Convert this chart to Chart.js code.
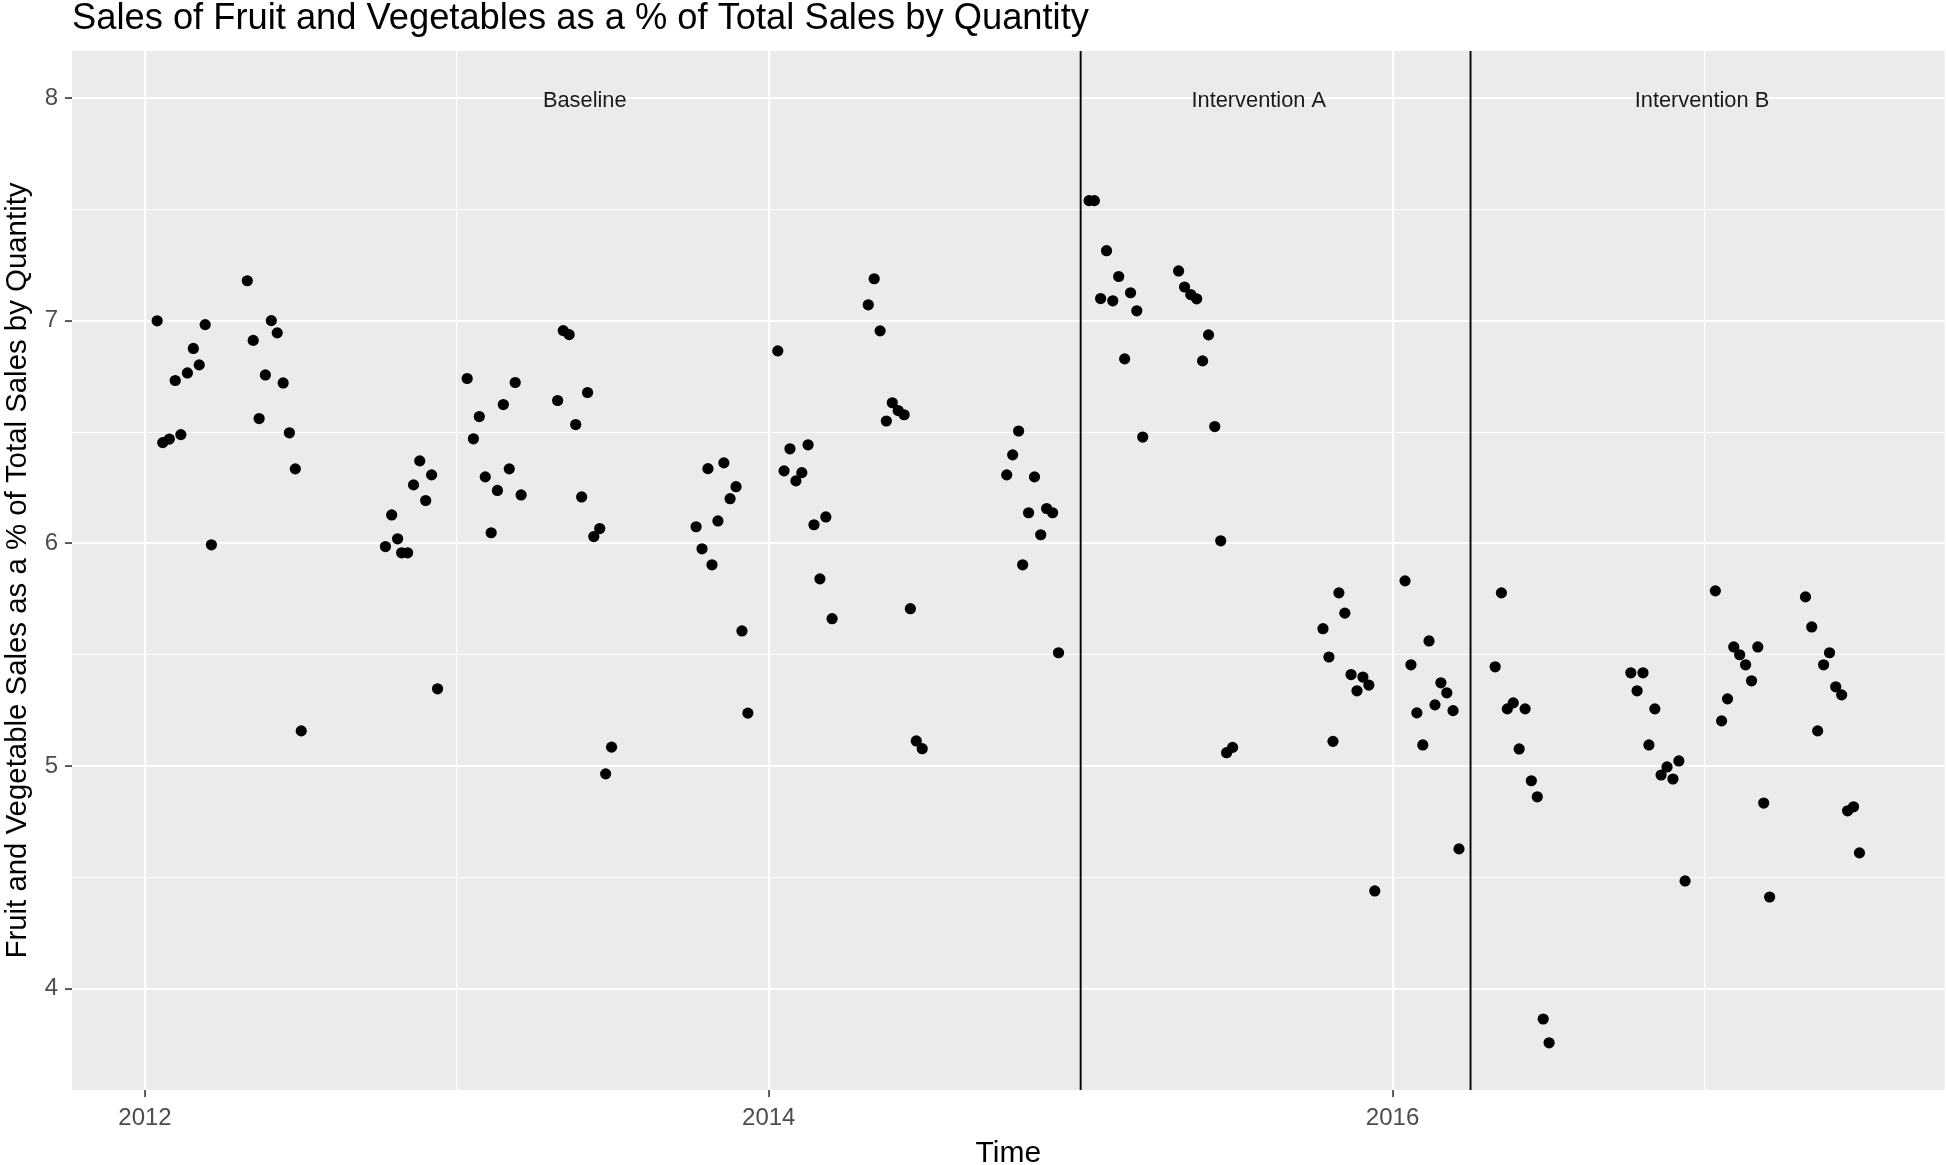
<!DOCTYPE html>
<html>
<head>
<meta charset="utf-8">
<script src="https://cdn.jsdelivr.net/npm/chart.js@4.4.1/dist/chart.umd.min.js"></script>
<style>
  html, body { margin: 0; padding: 0; background: #ffffff; }
  #wrap { width: 1946px; height: 1165px; position: relative; }
  canvas { display: block; }
</style>
</head>
<body>
<div id="wrap"><canvas id="c" width="1946" height="1165"></canvas></div>
<script>
// ---------- DATA (time in decimal years, value in %) ----------
const baselineTime = [
  2012.039, 2012.057, 2012.078, 2012.097, 2012.115, 2012.136, 2012.155, 2012.174, 2012.193, 2012.213,
  2012.328, 2012.347, 2012.366, 2012.386, 2012.405, 2012.424, 2012.443, 2012.463, 2012.482, 2012.501,
  2012.771, 2012.791, 2012.810, 2012.823, 2012.842, 2012.861, 2012.881, 2012.900, 2012.919, 2012.938,
  2013.033, 2013.053, 2013.072, 2013.091, 2013.110, 2013.130, 2013.149, 2013.168, 2013.187, 2013.206,
  2013.323, 2013.341, 2013.360, 2013.381, 2013.400, 2013.419, 2013.439, 2013.458, 2013.477, 2013.496,
  2013.767, 2013.786, 2013.805, 2013.818, 2013.837, 2013.856, 2013.876, 2013.895, 2013.914, 2013.933,
  2014.029, 2014.049, 2014.068, 2014.087, 2014.106, 2014.126, 2014.145, 2014.164, 2014.183, 2014.203,
  2014.319, 2014.338, 2014.357, 2014.377, 2014.396, 2014.415, 2014.434, 2014.454, 2014.473, 2014.492,
  2014.763, 2014.782, 2014.801, 2014.814, 2014.833, 2014.852, 2014.872, 2014.891, 2014.910, 2014.929
];
const baselinePct = [
  7.000, 6.453, 6.469, 6.732, 6.489, 6.766, 6.876, 6.802, 6.983, 5.994,
  7.180, 6.912, 6.561, 6.757, 7.001, 6.946, 6.721, 6.497, 6.335, 5.158,
  5.986, 6.128, 6.021, 5.958, 5.958, 6.263, 6.371, 6.193, 6.308, 5.347,
  6.741, 6.470, 6.570, 6.299, 6.048, 6.238, 6.624, 6.335, 6.723, 6.218,
  6.642, 6.956, 6.938, 6.534, 6.209, 6.678, 6.031, 6.067, 4.965, 5.085,
  6.075, 5.976, 6.336, 5.904, 6.101, 6.362, 6.201, 6.255, 5.607, 5.238,
  6.865, 6.326, 6.425, 6.281, 6.318, 6.443, 6.084, 5.841, 6.119, 5.662,
  7.072, 7.189, 6.955, 6.550, 6.632, 6.597, 6.578, 5.707, 5.113, 5.078,
  6.308, 6.398, 6.505, 5.904, 6.138, 6.299, 6.039, 6.157, 6.138, 5.509
];
const interventionATime = [
  2015.027, 2015.044, 2015.064, 2015.083, 2015.103, 2015.122, 2015.141, 2015.160, 2015.180, 2015.199,
  2015.314, 2015.333, 2015.353, 2015.372, 2015.391, 2015.410, 2015.430, 2015.449, 2015.468, 2015.487,
  2015.777, 2015.796, 2015.809, 2015.828, 2015.847, 2015.867, 2015.886, 2015.905, 2015.924, 2015.943,
  2016.040, 2016.059, 2016.078, 2016.097, 2016.117, 2016.136, 2016.155, 2016.174, 2016.194, 2016.213
];
const interventionAPct = [
  7.540, 7.540, 7.100, 7.315, 7.090, 7.199, 6.829, 7.126, 7.045, 6.478,
  7.224, 7.152, 7.118, 7.099, 6.820, 6.937, 6.525, 6.012, 5.060, 5.084,
  5.617, 5.490, 5.111, 5.778, 5.687, 5.411, 5.338, 5.400, 5.364, 4.439,
  5.832, 5.455, 5.239, 5.095, 5.562, 5.275, 5.374, 5.329, 5.249, 4.628
];
const interventionBTime = [
  2016.329, 2016.349, 2016.368, 2016.387, 2016.406, 2016.425, 2016.445, 2016.464, 2016.483, 2016.502,
  2016.764, 2016.784, 2016.803, 2016.822, 2016.841, 2016.861, 2016.880, 2016.899, 2016.918, 2016.938,
  2017.035, 2017.055, 2017.074, 2017.094, 2017.113, 2017.132, 2017.151, 2017.171, 2017.190, 2017.209,
  2017.324, 2017.344, 2017.363, 2017.382, 2017.401, 2017.421, 2017.440, 2017.459, 2017.478, 2017.497
];
const interventionBPct = [
  5.446, 5.778, 5.257, 5.284, 5.077, 5.257, 4.934, 4.862, 3.864, 3.757,
  5.419, 5.338, 5.419, 5.095, 5.257, 4.960, 4.996, 4.942, 5.023, 4.484,
  5.787, 5.203, 5.302, 5.535, 5.500, 5.455, 5.383, 5.535, 4.834, 4.412,
  5.760, 5.625, 5.158, 5.455, 5.509, 5.356, 5.320, 4.799, 4.817, 4.610
];

// phase boundaries and phase annotation labels
const interventionStart = [2015.0, 2016.25];
const phaseLabels = ['Baseline', 'Intervention A', 'Intervention B'];
const phaseLabelTime = [2013.41, 2015.571, 2016.992];
const phaseLabelPct = 8;

// axis ticks
const xTickYears = [2012, 2014, 2016];
const yTickValues = [4, 5, 6, 7, 8];
const xRange = [2011.766, 2017.770];
const yRange = [3.545, 8.212];

const titleText = 'Sales of Fruit and Vegetables as a % of Total Sales by Quantity';
const xTitle = 'Time';
const yTitle = 'Fruit and Vegetable Sales as a % of Total Sales by Quantity';

// ---------- CHART ----------
const FONT = '"Liberation Sans", Arial, Helvetica, sans-serif';
Chart.defaults.font.family = FONT;

function toPoints(xs, ys) { return xs.map((x, i) => ({ x: x, y: ys[i] })); }
function near(v, arr) { return arr.some(a => Math.abs(a - v) < 1e-6); }

const panelPlugin = {
  id: 'panel',
  beforeDraw(chart) {
    const { ctx, chartArea: a } = chart;
    ctx.save();
    ctx.fillStyle = '#EBEBEB';
    ctx.fillRect(a.left, a.top, a.right - a.left, a.bottom - a.top);
    ctx.restore();
  },
  beforeDatasetsDraw(chart) {
    const { ctx, chartArea: a, scales } = chart;
    const x = scales.x, y = scales.y;
    ctx.save();
    ctx.strokeStyle = '#000000';
    ctx.lineWidth = 1.9;
    interventionStart.forEach(t => {
      const px = x.getPixelForValue(t);
      ctx.beginPath();
      ctx.moveTo(px, a.top);
      ctx.lineTo(px, a.bottom);
      ctx.stroke();
    });
    ctx.fillStyle = '#1A1A1A';
    ctx.font = '21.8px ' + FONT;
    ctx.textAlign = 'center';
    ctx.textBaseline = 'middle';
    phaseLabels.forEach((lab, i) => {
      ctx.fillText(lab, x.getPixelForValue(phaseLabelTime[i]), y.getPixelForValue(phaseLabelPct) + 2.5);
    });
    ctx.restore();
  }
};

const pointStyle = { pointRadius: 5.6, pointHoverRadius: 5.6, backgroundColor: '#000000', borderWidth: 0 };

new Chart(document.getElementById('c').getContext('2d'), {
  type: 'scatter',
  data: {
    datasets: [
      Object.assign({ label: phaseLabels[0], data: toPoints(baselineTime, baselinePct) }, pointStyle),
      Object.assign({ label: phaseLabels[1], data: toPoints(interventionATime, interventionAPct) }, pointStyle),
      Object.assign({ label: phaseLabels[2], data: toPoints(interventionBTime, interventionBPct) }, pointStyle)
    ]
  },
  options: {
    responsive: false,
    animation: false,
    devicePixelRatio: 1,
    layout: { autoPadding: false, padding: { left: 0, right: 1.4, top: 0, bottom: 0 } },
    plugins: {
      legend: { display: false },
      tooltip: { enabled: false },
      title: {
        display: true,
        text: titleText,
        align: 'start',
        fullSize: false,
        color: '#000000',
        font: { family: FONT, size: 36.3, weight: 'normal', lineHeight: 0.9 },
        padding: { top: 2.5, bottom: 15.83 }
      }
    },
    scales: {
      x: {
        type: 'linear',
        position: 'bottom',
        min: xRange[0],
        max: xRange[1],
        afterFit(s) { s.height = 75; s.paddingLeft = 0; s.paddingRight = 0; },
        border: { display: false },
        grid: {
          color: '#FFFFFF',
          lineWidth: c => (c.tick && near(c.tick.value, xTickYears)) ? 2.1 : 1.1,
          tickLength: 7,
          tickWidth: 1.6,
          tickColor: c => (c.tick && near(c.tick.value, xTickYears)) ? '#333333' : 'rgba(0,0,0,0)'
        },
        ticks: {
          stepSize: 1,
          autoSkip: false,
          includeBounds: false,
          maxRotation: 0,
          minRotation: 0,
          padding: 6.5,
          color: '#4D4D4D',
          font: { family: FONT, size: 24 },
          callback: v => near(v, xTickYears) ? String(Math.round(v)) : ''
        },
        title: {
          display: true,
          text: xTitle,
          color: '#000000',
          font: { family: FONT, size: 30, lineHeight: 0.75 },
          padding: { top: 0, bottom: 0 }
        }
      },
      y: {
        type: 'linear',
        position: 'left',
        min: yRange[0],
        max: yRange[1],
        afterFit(s) { s.width = 72; s.paddingTop = 0; s.paddingBottom = 0; },
        border: { display: false },
        grid: {
          color: '#FFFFFF',
          lineWidth: c => (c.tick && near(c.tick.value, yTickValues)) ? 2.1 : 1.1,
          tickLength: 7,
          tickWidth: 1.6,
          tickColor: c => (c.tick && near(c.tick.value, yTickValues)) ? '#333333' : 'rgba(0,0,0,0)'
        },
        ticks: {
          stepSize: 0.5,
          autoSkip: false,
          includeBounds: false,
          padding: 7,
          color: '#4D4D4D',
          font: { family: FONT, size: 24 },
          callback: v => near(v, yTickValues) ? String(Math.round(v)) : ''
        },
        title: {
          display: true,
          text: yTitle,
          color: '#000000',
          font: { family: FONT, size: 29.4, lineHeight: 1 },
          padding: { top: 3, bottom: 0 }
        }
      }
    }
  },
  plugins: [panelPlugin]
});
</script>
</body>
</html>
